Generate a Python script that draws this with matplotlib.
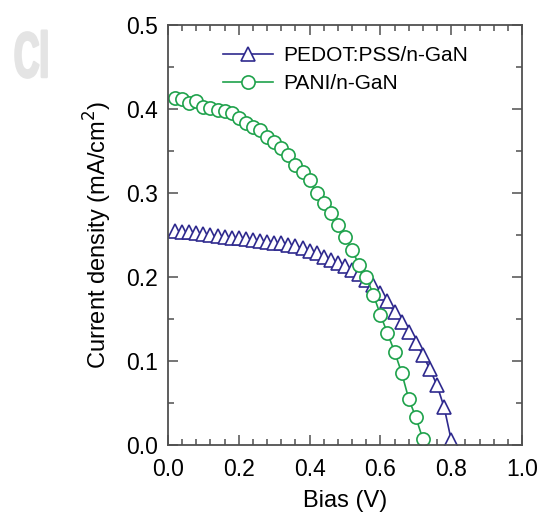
import matplotlib
matplotlib.use("Agg")
import matplotlib.pyplot as plt
from matplotlib.ticker import MultipleLocator, FormatStrFormatter
from matplotlib.patheffects import AbstractPathEffect
from matplotlib.transforms import Affine2D

plt.rcParams['font.family'] = ['Liberation Sans', 'DejaVu Sans']

# Data
pedot_v = [0.02, 0.04, 0.06, 0.08, 0.10, 0.12, 0.14, 0.16, 0.18, 0.20,
           0.22, 0.24, 0.26, 0.28, 0.30, 0.32, 0.34, 0.36, 0.38, 0.40,
           0.42, 0.44, 0.46, 0.48, 0.50, 0.52, 0.54, 0.56, 0.58, 0.60,
           0.62, 0.64, 0.66, 0.68, 0.70, 0.72, 0.74, 0.76, 0.78, 0.80]
pedot_j = [0.255, 0.254, 0.253, 0.252, 0.251, 0.250, 0.249, 0.248, 0.247, 0.246,
           0.245, 0.244, 0.243, 0.242, 0.241, 0.240, 0.238, 0.237, 0.235, 0.231,
           0.228, 0.224, 0.220, 0.217, 0.213, 0.208, 0.203, 0.197, 0.190, 0.181,
           0.171, 0.158, 0.146, 0.135, 0.122, 0.107, 0.090, 0.071, 0.045, 0.006]

pani_v = [0.02, 0.04, 0.06, 0.08, 0.10, 0.12, 0.14, 0.16, 0.18, 0.20,
          0.22, 0.24, 0.26, 0.28, 0.30, 0.32, 0.34, 0.36, 0.38, 0.40,
          0.42, 0.44, 0.46, 0.48, 0.50, 0.52, 0.54, 0.56, 0.58, 0.60,
          0.62, 0.64, 0.66, 0.68, 0.70, 0.72]
pani_j = [0.413, 0.412, 0.407, 0.409, 0.402, 0.401, 0.399, 0.398, 0.395, 0.389,
          0.383, 0.379, 0.375, 0.367, 0.361, 0.354, 0.345, 0.333, 0.325, 0.315,
          0.300, 0.288, 0.276, 0.262, 0.248, 0.232, 0.214, 0.200, 0.179, 0.155,
          0.133, 0.111, 0.086, 0.055, 0.033, 0.007]

labels = ['PEDOT:PSS/n-GaN', 'PANI/n-GaN']
x_label = 'Bias (V)'
y_label = 'Current density (mA/cm$^2$)'

blue = '#2f2a8e'
green = '#1fa24c'
spine = '#505050'
wm_color = '#e4e4e4'


class Squeeze(AbstractPathEffect):
    """Horizontally condense (and embolden) text around a fixed x position."""
    def __init__(self, sx, x0, stroke, color):
        super().__init__()
        self.sx = sx
        self.x0 = x0
        self.stroke = stroke
        self.color = color

    def draw_path(self, renderer, gc, tpath, affine, rgbFace=None):
        t = affine + Affine2D().translate(-self.x0, 0).scale(self.sx, 1).translate(self.x0, 0)
        gc0 = renderer.new_gc()
        gc0.copy_properties(gc)
        gc0.set_linewidth(self.stroke)
        gc0.set_foreground(self.color)
        renderer.draw_path(gc0, tpath, t, rgbFace)
        gc0.restore()


fig = plt.figure(figsize=(5.44, 5.18), dpi=100)
ax = fig.add_axes([168/544, 73/518, (522-168)/544, (445-25)/518])

ax.plot(pedot_v, pedot_j, color=blue, lw=1.2, marker='^', ms=10,
        mfc='white', mec=blue, mew=1.2, label=labels[0])
ax.plot(pani_v, pani_j, color=green, lw=1.2, marker='o', ms=9.5,
        mfc='white', mec=green, mew=1.2, label=labels[1])

ax.set_xlim(0, 1.0)
ax.set_ylim(0, 0.5)
ax.xaxis.set_major_locator(MultipleLocator(0.2))
ax.xaxis.set_minor_locator(MultipleLocator(0.04))
ax.yaxis.set_major_locator(MultipleLocator(0.1))
ax.yaxis.set_minor_locator(MultipleLocator(0.05))
ax.xaxis.set_major_formatter(FormatStrFormatter('%.1f'))
ax.yaxis.set_major_formatter(FormatStrFormatter('%.1f'))
ax.tick_params(which='both', direction='in', top=True, right=True,
               color=spine, width=1.1, labelsize=16.5)
ax.tick_params(which='major', length=7)
ax.tick_params(which='minor', length=4)
ax.tick_params(axis='x', pad=9)
ax.tick_params(axis='y', pad=7)
for s in ax.spines.values():
    s.set_color(spine)
    s.set_linewidth(1.3)

ax.set_xlabel(x_label, fontsize=17, labelpad=7)
ax.set_ylabel(y_label, fontsize=17, labelpad=9)

leg = ax.legend(loc='upper left', bbox_to_anchor=(0.155, 0.95), frameon=False,
                fontsize=15, handlelength=2.4, handletextpad=0.48,
                labelspacing=0.45, borderaxespad=0, borderpad=0)

fig.text(14/544, 1 - 77/518, 'Cl', fontsize=46, color=wm_color,
         fontweight='bold', family='Liberation Sans',
         path_effects=[Squeeze(0.55, 14, 1.8, wm_color)])

fig.savefig('out.png', dpi=100)
